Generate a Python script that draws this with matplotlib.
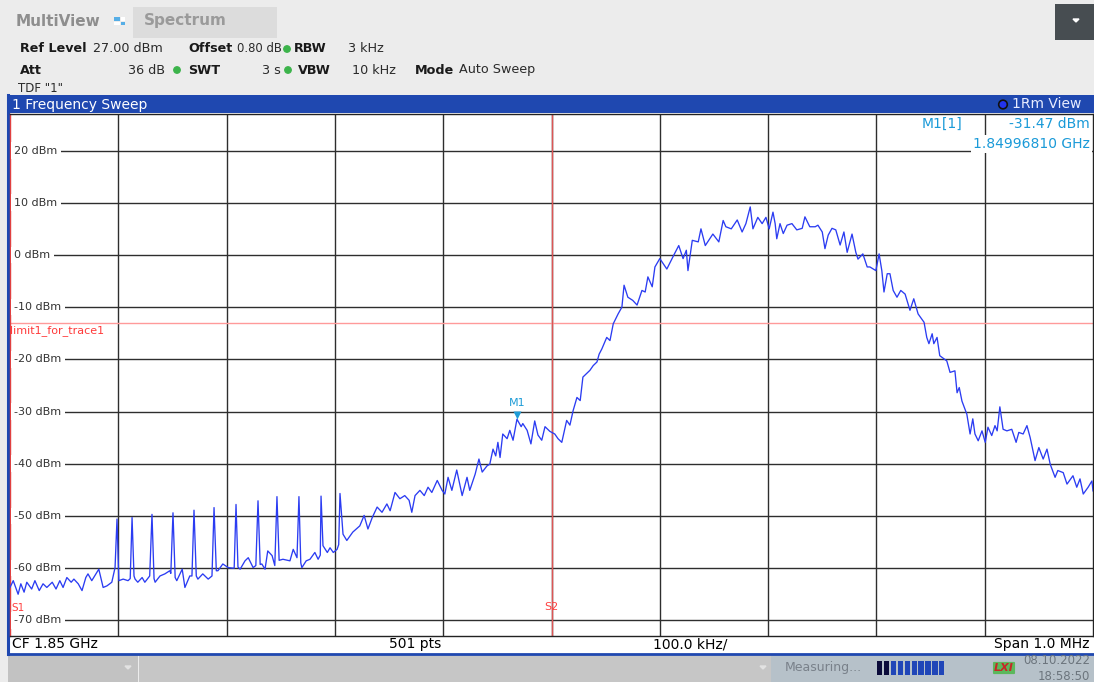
import matplotlib
matplotlib.use('Agg')
import matplotlib.pyplot as plt
from matplotlib.patches import Rectangle, Circle, Polygon
from matplotlib.transforms import blended_transform_factory

# ---------------- data ----------------
center_ghz = 1.85
span_khz = 1000.0
ref_level = 27.0
range_db = 100.0
limit_dbm = -13.0
m1_ghz = 1.84996810
m1_dbm = -31.47
n_points = 501
y_ticks = [20, 10, 0, -10, -20, -30, -40, -50, -60, -70]

# frequency offset from CF in kHz
freq_khz = [
    -500, -497, -492.5, -490, -487, -484.5, -480, -477, -473, -469.5, -466, -461, -457.5, -454,
    -451, -447.5, -443.5, -441, -437, -433.5, -430, -428, -424.5, -421.5, -418, -414, -410.5,
    -406, -403, -401.2, -399.5, -395.5, -391, -389, -387.3, -385.5, -384.5, -382, -378, -375.5,
    -371, -368.9, -367, -366, -361.5, -357, -352.5, -351.5, -349.5, -347.5, -346, -341, -338.5,
    -334, -332, -330.1, -328, -326.5, -322, -317, -313.5, -311.6, -309.5, -308, -303.5, -298.5,
    -294, -293, -291.3, -289.5, -287.5, -283, -280, -275.5, -273, -271, -269, -267.5, -264.5,
    -262, -258, -255.5, -253.5, -251.5, -248, -241.5, -238.5, -235, -233.2, -231.5, -230.5,
    -226.5, -223, -218.5, -215.5, -213.5, -212.8, -211, -207, -204.5, -201.5, -198, -196.5,
    -195.3, -192.5, -189, -183.5, -177, -173, -169.5, -165.5, -161, -156.5, -152, -149, -144.5,
    -140, -135.5, -131.5, -129, -126, -121.5, -117.5, -114, -110.5, -105.5, -101, -98.5, -95.5,
    -92, -87.5, -82.5, -78, -75.5, -70.5, -67, -64, -59.5, -57, -54, -51.5, -49.5, -47.5, -45,
    -41, -38.5, -35.5, -31.9, -28, -26.5, -22.5, -19, -15.5, -12.5, -9, -6, -1.5, 3, 6, 9.5, 14,
    17, 20, 23.5, 26.5, 29, 32, 35.5, 38.5, 42, 44, 46.5, 51, 54, 57, 61.5, 65, 67, 70.5, 75, 79, 83.5, 86.5,
    89, 93, 95.5, 100, 106.5, 113, 117.5, 121.5, 124.5, 126, 130, 135.5, 138, 142, 149, 154.5,
    158.5, 161, 166, 171.5, 176, 179.5, 183.5, 186, 190.5, 194.5, 198, 201, 204.5, 206.5, 208,
    211, 214, 217.5, 222, 226.5, 231.5, 234, 238.5, 243.5, 246, 250, 252.5, 255.5, 259, 262.5,
    266.5, 270, 273, 277.5, 281, 283, 287.5, 291.5, 294, 299.5, 302.5, 305, 307, 310, 312.5,
    315.5, 319, 322.5, 326.5, 331, 334.5, 338.5, 344, 346.5, 348.5, 351.5, 353, 356, 358.5,
    365, 368, 372.5, 374.5, 376.5, 379, 383.5, 386.5, 389, 391, 394, 397.5, 400.5, 403, 406.5,
    409.5, 411.5, 414, 417, 420.5, 425, 429, 431.5, 435.5, 439, 442, 446.5, 450, 454, 457.5,
    460.5, 465, 467.5, 472.5, 476, 479.5, 481.5, 485, 488, 491, 495.5, 499, 500,
]

level_dbm = [
    -63.7, -62.4, -65.0, -63.0, -64.6, -62.7, -64.0, -62.4, -64.3, -63.0, -63.7, -62.7, -64.0, -62.4,
    -63.7, -61.8, -62.7, -62.1, -63.0, -64.3, -61.8, -61.1, -62.4, -61.4, -60.2, -63.7, -63.4,
    -62.7, -59.9, -50.6, -62.4, -62.1, -62.4, -62.0, -50.3, -61.5, -62.1, -62.7, -61.8, -62.7,
    -61.5, -49.7, -62.0, -62.7, -61.5, -61.1, -60.5, -61.0, -49.4, -61.8, -62.4, -60.2, -63.7,
    -61.5, -61.5, -48.9, -61.5, -62.1, -61.1, -62.1, -61.5, -48.4, -60.5, -60.5, -59.2, -59.9,
    -60.0, -60.0, -47.8, -59.8, -60.2, -58.6, -58.0, -59.9, -59.5, -47.1, -59.3, -59.2, -60.2,
    -56.7, -57.6, -59.5, -46.3, -58.5, -58.3, -58.6, -56.4, -58.0, -46.3, -59.0, -59.9,
    -58.6, -58.3, -57.0, -58.3, -57.5, -46.2, -55.7, -57.0, -56.1, -57.0, -56.4, -55.5,
    -45.7, -53.5, -54.7, -53.1, -51.9, -49.9, -52.5, -50.3, -48.3, -49.3, -47.7, -49.0, -45.5,
    -46.7, -46.1, -47.0, -49.3, -46.1, -45.1, -46.1, -44.5, -45.5, -43.2, -45.1, -45.8, -42.6,
    -45.1, -41.2, -46.1, -42.6, -45.1, -42.0, -39.1, -41.6, -40.4, -40.1, -37.2, -38.5, -35.9, -38.8, -34.3,
    -35.2, -33.6, -35.5, -31.47, -32.9, -32.3, -33.6, -36.2, -31.8, -34.5, -35.5, -32.9, -33.8, -34.3, -35.2, -35.9, -31.7,
    -32.6, -29.8, -27.3, -27.9, -23.4, -22.8, -22.1, -21.2, -20.5, -19.0, -18.0, -15.8, -16.4, -13.2, -11.3, -10.0, -5.8, -8.1, -8.7, -9.6, -6.8, -7.1,
    -4.2, -6.1, -2.3, -0.7, -2.7, 0.0, 1.8, -0.7, 0.9, -3.0, 2.8, 2.5, 5.0, 1.8, 4.0, 2.5,
    6.6, 5.4, 5.0, 6.7, 4.4, 6.0, 9.2, 5.0, 7.2, 6.0, 7.2, 5.0, 8.2, 6.0, 3.1,
    6.0, 4.1, 5.7, 6.0, 4.8, 5.1, 7.3, 5.4, 5.4, 5.7, 4.4, 1.2, 3.8, 5.1, 4.8,
    1.9, 4.4, 0.5, 4.0, 0.5, -0.8, 0.2, -2.3, -2.3, -3.0, 0.2, -3.0, -7.1, -3.6, -3.6,
    -6.8, -8.1, -6.8, -7.5, -10.6, -8.4, -11.3, -12.9, -15.8, -17.0, -15.1, -17.0, -15.8, -19.3,
    -20.3, -22.5, -22.2, -26.4, -25.4, -28.0, -30.5, -34.3, -31.4, -34.3, -35.6, -33.7, -35.9, -33.0, -34.6,
    -32.7, -33.7, -29.1, -33.4, -33.7, -33.4, -35.9, -34.0, -34.3, -32.7, -35.0, -39.4, -36.9, -39.1, -37.2,
    -40.1, -42.6, -41.3, -41.7, -43.9, -42.9, -42.3, -44.5, -42.9, -45.8, -44.5, -43.3, -45.2,
]

# ---------------- figure ----------------
W, H = 1094, 682
fig = plt.figure(figsize=(W / 100, H / 100), dpi=100)
fig.patch.set_facecolor('#ececec')
plt.rcParams['font.family'] = ['DejaVu Sans']

deco = fig.add_axes([0, 0, 1, 1])
deco.set_xlim(0, W)
deco.set_ylim(H, 0)
deco.axis('off')


def T(x, y, s, **kw):
    return fig.text(x, y, s, transform=deco.transData, **kw)


GRAY_TXT = '#2a2a2a'
BOLD_TXT = '#1a1a1a'
# header
T(16, 21, 'MultiView', fontsize=11, fontweight='bold', color='#8e8e8e', va='center')
deco.add_patch(Rectangle((114, 17), 6, 4, color='#56aee6', lw=0))
deco.add_patch(Rectangle((121, 17), 4, 4, color='#ffffff', lw=0))
deco.add_patch(Rectangle((114, 22), 6, 3, color='#ffffff', lw=0))
deco.add_patch(Rectangle((121, 22), 4, 3, color='#56aee6', lw=0))
deco.add_patch(Rectangle((133, 7), 144, 31, color='#dcdcdc', lw=0))
T(144, 21, 'Spectrum', fontsize=11, fontweight='bold', color='#9a9a9a', va='center')
deco.add_patch(Rectangle((1055, 4), 39, 36, color='#474d51', lw=0))
deco.add_patch(Polygon([[1073, 19], [1079, 19], [1076, 22]], color='white'))

hs = 9.2
T(20, 49, 'Ref Level', fontsize=hs, fontweight='bold', color=BOLD_TXT, va='center')
T(93, 49, '27.00 dBm', fontsize=hs, color=GRAY_TXT, va='center')
T(188, 49, 'Offset', fontsize=hs, fontweight='bold', color=BOLD_TXT, va='center')
T(237, 49, '0.80 dB', fontsize=8.4, color=GRAY_TXT, va='center')
deco.add_patch(Circle((287, 49), 3.2, color='#3cb44b'))
T(294, 49, 'RBW', fontsize=hs, fontweight='bold', color=BOLD_TXT, va='center')
T(348, 49, '3 kHz', fontsize=hs, color=GRAY_TXT, va='center')

T(20, 70, 'Att', fontsize=hs, fontweight='bold', color=BOLD_TXT, va='center')
T(165, 70, '36 dB', fontsize=hs, color=GRAY_TXT, va='center', ha='right')
deco.add_patch(Circle((177, 70), 3.2, color='#3cb44b'))
T(188, 70, 'SWT', fontsize=hs, fontweight='bold', color=BOLD_TXT, va='center')
T(281, 70, '3 s', fontsize=hs, color=GRAY_TXT, va='center', ha='right')
deco.add_patch(Circle((288, 70), 3.2, color='#3cb44b'))
T(298, 70, 'VBW', fontsize=hs, fontweight='bold', color=BOLD_TXT, va='center')
T(352, 70, '10 kHz', fontsize=hs, color=GRAY_TXT, va='center')
T(415, 70, 'Mode', fontsize=hs, fontweight='bold', color=BOLD_TXT, va='center')
T(459, 70, 'Auto Sweep', fontsize=hs, color=GRAY_TXT, va='center')
T(18, 88, 'TDF "1"', fontsize=8.5, color=GRAY_TXT, va='center')

# window frame, title bar
deco.add_patch(Rectangle((8, 113), W - 8, 541, color='white', lw=0))
deco.add_patch(Rectangle((8, 95), W - 8, 18, color='#1f48b0', lw=0))
deco.plot([8, 8], [95, 654], color='#1f48b0', lw=2.2)
deco.plot([8, W], [653.5, 653.5], color='#1f48b0', lw=2)
T(12, 104.5, '1 Frequency Sweep', fontsize=10, color='white', va='center')
deco.add_patch(Circle((1003, 104.5), 4.3, facecolor='#2233ee', edgecolor='#111111', lw=1.2))
T(1081, 104.5, '1Rm View', fontsize=10, color='#e8ecff', va='center', ha='right')

# bottom info strip
T(12, 644, 'CF 1.85 GHz', fontsize=10, color='black', va='center')
T(415, 644, f'{n_points} pts', fontsize=10, color='black', va='center', ha='center')
T(690, 644, f'{span_khz / 10:.1f} kHz/', fontsize=10, color='black', va='center', ha='center')
T(1090, 644, f'Span {span_khz / 1000:.1f} MHz', fontsize=10, color='black', va='center', ha='right')

# status bar
deco.add_patch(Rectangle((8, 655), 130, 27, color='#c2c2c2', lw=0))
deco.add_patch(Rectangle((139, 655), 632, 27, color='#c6c6c6', lw=0))
deco.add_patch(Rectangle((771, 655), W - 771, 27, color='#b6c1c9', lw=0))
for ax_ in (128, 763):
    deco.add_patch(Polygon([[ax_ - 3, 666], [ax_ + 3, 666], [ax_, 669]], color='#e2e2e2'))
T(785, 668, 'Measuring...', fontsize=9, color='#79818a', va='center')
for i in range(10):
    deco.add_patch(Rectangle((877 + i * 6.9, 661), 5.3, 14, lw=0,
                             facecolor='#0b0b3a' if i < 2 else '#2046b8'))
T(1004, 668, 'LXI', fontsize=8, fontweight='bold', style='italic', color='#c62828',
  va='center', ha='center',
  bbox=dict(boxstyle='round,pad=0.1', facecolor='#5cb85c', edgecolor='none'))
T(1090, 661, '08.10.2022', fontsize=8.5, color='#6c757d', va='center', ha='right')
T(1090, 676, '18:58:50', fontsize=8.5, color='#6c757d', va='center', ha='right')

# ---------------- main trace axes ----------------
x0, x1, y0, y1 = 10, 1093, 114, 636
ax = fig.add_axes([x0 / W, 1 - y1 / H, (x1 - x0) / W, (y1 - y0) / H])
ax.set_facecolor('white')
ax.set_xlim(-span_khz / 2, span_khz / 2)
ax.set_ylim(ref_level - range_db, ref_level)
ax.set_xticks([-400, -300, -200, -100, 0, 100, 200, 300, 400])
ax.set_yticks(y_ticks)
ax.tick_params(length=0, labelbottom=False, labelleft=False)
ax.grid(True, color='#2e2e2e', lw=1.0)
ax.set_axisbelow(True)
for s in ('top', 'bottom', 'right'):
    ax.spines[s].set_color('#222222')
    ax.spines[s].set_linewidth(1.0)
ax.spines['left'].set_color('#e04040')
ax.spines['left'].set_linewidth(1.0)

ytr = blended_transform_factory(ax.transAxes, ax.transData)
for v in y_ticks:
    ax.text(4.5 / (x1 - x0), v, f'{v} dBm', transform=ytr, fontsize=8, color='#333333',
            va='center', ha='left', zorder=3,
            bbox=dict(boxstyle='square,pad=0.3', facecolor='white', edgecolor='none'))

# limit line
ax.axhline(limit_dbm, color='#ff9a9a', lw=1.0, zorder=2)
ax.text(0.0, limit_dbm - 1.4, 'limit1_for_trace1', transform=ytr, fontsize=8,
        color='#ff3a3a', va='center', ha='left', zorder=3)

# S2 (centre) line
ax.axvline((center_ghz - center_ghz) * 1e6, color='#dd5555', lw=1.0, zorder=2)
ax.text(0, -67.5, 'S2', fontsize=8, color='#ff4040', ha='center', va='center', zorder=3)
ax.text(-499, -67.6, 'S1', fontsize=7.5, color='#ff4040', ha='left', va='center', zorder=4)

# trace
ax.plot(freq_khz, level_dbm, color='#2b3cf2', lw=0.95, zorder=4)

# marker M1
m1_khz = (m1_ghz - center_ghz) * 1e6
ax.plot([m1_khz], [m1_dbm + 0.75], marker='v', ms=6, color='#1e9cd7', mec='none', zorder=5)
ax.text(m1_khz, -28.3, 'M1', fontsize=8, color='#1e9cd7', ha='center', va='center', zorder=5)

# marker info box (top right)
mk = '#1a9ad8'
T(962, 124, 'M1[1]', fontsize=10, color=mk, va='center', ha='right',
  bbox=dict(boxstyle='square,pad=0.1', facecolor='white', edgecolor='none'))
T(1090, 124, f'{m1_dbm:.2f} dBm', fontsize=10, color=mk, va='center', ha='right')
T(1090, 144, f'{m1_ghz:.8f} GHz', fontsize=10, color=mk, va='center', ha='right',
  bbox=dict(boxstyle='square,pad=0.15', facecolor='white', edgecolor='none'))

fig.savefig('out.png', dpi=100, facecolor=fig.get_facecolor())
